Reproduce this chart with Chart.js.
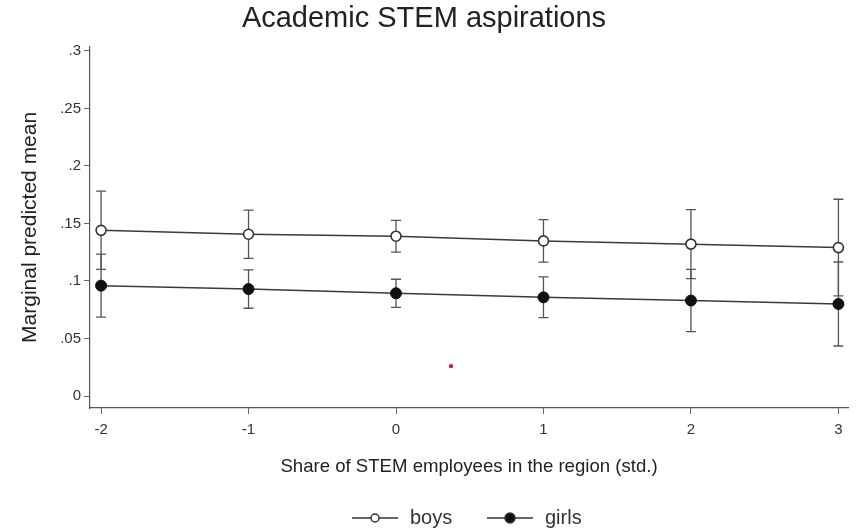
<!DOCTYPE html>
<html>
<head>
<meta charset="utf-8">
<script src="https://cdn.jsdelivr.net/npm/chart.js@4.4.1/dist/chart.umd.min.js"></script>
<style>
  html, body { margin: 0; padding: 0; background: #fff; }
  #wrap { width: 862px; height: 532px; }
</style>
</head>
<body>
<div id="wrap"><canvas id="chart" width="862" height="532"></canvas></div>
<script>
// values
var xVals = [-2, -1, 0, 1, 2, 3];
var xTickLabels = ["-2", "-1", "0", "1", "2", "3"];
var yTicks = [0, 0.05, 0.1, 0.15, 0.2, 0.25, 0.3];
var yTickLabels = ["0", ".05", ".1", ".15", ".2", ".25", ".3"];

var boysMean = [0.144, 0.1406, 0.1389, 0.1348, 0.132, 0.129];
var boysLow  = [0.110, 0.1196, 0.1251, 0.1163, 0.102, 0.087];
var boysHigh = [0.178, 0.1616, 0.1527, 0.1533, 0.162, 0.171];

var girlsMean = [0.0959, 0.093, 0.0893, 0.0858, 0.083, 0.080];
var girlsLow  = [0.0685, 0.0763, 0.0771, 0.0681, 0.056, 0.0435];
var girlsHigh = [0.1233, 0.1097, 0.1015, 0.1035, 0.110, 0.1165];

// small red speck in the plot
var strayX = [0.373];
var strayY = [0.026];

var FONT = "'Liberation Sans', Arial, sans-serif";

function toPoints(xs, ys) {
    var pts = [];
    for (var i = 0; i < xs.length; i++) pts.push({x: xs[i], y: ys[i]});
    return pts;
}

var errorBars = {
    id: 'errorBars',
    beforeDatasetsDraw: function(chart) {
        var ctx = chart.ctx;
        var xs = chart.scales.x, ys = chart.scales.y;
        var sets = [[boysLow, boysHigh], [girlsLow, girlsHigh]];
        ctx.save();
        ctx.strokeStyle = '#555';
        ctx.lineWidth = 1.3;
        for (var s = 0; s < sets.length; s++) {
            for (var i = 0; i < xVals.length; i++) {
                var px = xs.getPixelForValue(xVals[i]);
                var lo = ys.getPixelForValue(sets[s][0][i]);
                var hi = ys.getPixelForValue(sets[s][1][i]);
                ctx.beginPath();
                ctx.moveTo(px, lo); ctx.lineTo(px, hi);
                ctx.moveTo(px - 5, lo); ctx.lineTo(px + 5, lo);
                ctx.moveTo(px - 5, hi); ctx.lineTo(px + 5, hi);
                ctx.stroke();
            }
        }
        ctx.restore();
    }
};

var stataLegend = {
    id: 'stataLegend',
    afterDraw: function(chart) {
        var ctx = chart.ctx;
        var y = 518;
        var items = [
            {x0: 352, x1: 398, label: 'boys', open: true, r: 4},
            {x0: 487, x1: 533, label: 'girls', open: false, r: 5}
        ];
        ctx.save();
        items.forEach(function(it) {
            ctx.strokeStyle = '#333';
            ctx.lineWidth = 1.5;
            ctx.beginPath();
            ctx.moveTo(it.x0, y); ctx.lineTo(it.x1, y);
            ctx.stroke();
            var cx = (it.x0 + it.x1) / 2;
            ctx.beginPath();
            ctx.arc(cx, y, it.r, 0, Math.PI * 2);
            ctx.fillStyle = it.open ? '#fff' : '#111';
            ctx.fill();
            ctx.stroke();
            ctx.fillStyle = '#333';
            ctx.font = '20px ' + FONT;
            ctx.textBaseline = 'middle';
            ctx.textAlign = 'left';
            ctx.fillText(it.label, it.x1 + 12, y);
        });
        ctx.restore();
    }
};

var ctx = document.getElementById('chart').getContext('2d');
var chart = new Chart(ctx, {
    type: 'line',
    data: {
        datasets: [{
            label: 'boys',
            data: toPoints(xVals, boysMean),
            borderColor: '#3a3a3a',
            borderWidth: 1.5,
            pointRadius: 5,
            pointBackgroundColor: '#fff',
            pointBorderColor: '#333',
            pointBorderWidth: 1.6,
            fill: false
        }, {
            label: 'girls',
            data: toPoints(xVals, girlsMean),
            borderColor: '#3a3a3a',
            borderWidth: 1.5,
            pointRadius: 5.5,
            pointBackgroundColor: '#111',
            pointBorderColor: '#111',
            pointBorderWidth: 1,
            fill: false
        }, {
            label: 'stray',
            data: toPoints(strayX, strayY),
            showLine: false,
            pointRadius: 2.2,
            pointBackgroundColor: '#e0182d',
            pointBorderWidth: 0
        }]
    },
    options: {
        responsive: false,
        animation: false,
        layout: { padding: { top: 0, left: 0, right: 14, bottom: 0 } },
        plugins: {
            legend: { display: false },
            tooltip: { enabled: false },
            title: {
                display: true,
                text: 'Academic STEM aspirations',
                color: '#222',
                font: { family: FONT, size: 29, weight: 'normal' },
                padding: { top: 2, bottom: 10 }
            }
        },
        scales: {
            x: {
                type: 'linear',
                min: -2.075,
                max: 3.065,
                afterBuildTicks: function(axis) {
                    axis.ticks = xVals.map(function(v) { return {value: v}; });
                },
                afterFit: function(axis) { axis.height = 124; },
                ticks: {
                    color: '#333',
                    font: { family: FONT, size: 15 },
                    padding: 7,
                    maxRotation: 0,
                    callback: function(v, i) { return xTickLabels[i]; }
                },
                grid: { drawOnChartArea: false, drawTicks: true, tickLength: 6, color: '#666' },
                border: { display: true, color: '#555', width: 1.2 },
                title: {
                    display: true,
                    text: 'Share of STEM employees in the region (std.)',
                    color: '#222',
                    font: { family: FONT, size: 18.6 },
                    padding: { top: 0, bottom: 54 }
                }
            },
            y: {
                type: 'linear',
                min: -0.0104,
                max: 0.3035,
                afterBuildTicks: function(axis) {
                    axis.ticks = yTicks.map(function(v) { return {value: v}; });
                },
                afterFit: function(axis) { axis.width = 90; },
                ticks: {
                    color: '#333',
                    font: { family: FONT, size: 15 },
                    padding: 3,
                    callback: function(v, i) { return yTickLabels[i]; }
                },
                grid: { drawOnChartArea: false, drawTicks: true, tickLength: 6, color: '#666' },
                border: { display: true, color: '#555', width: 1.2 },
                title: {
                    display: true,
                    text: 'Marginal predicted mean',
                    color: '#222',
                    font: { family: FONT, size: 21 },
                    padding: { top: 18, bottom: 0 }
                }
            }
        }
    },
    plugins: [errorBars, stataLegend]
});
</script>
</body>
</html>
